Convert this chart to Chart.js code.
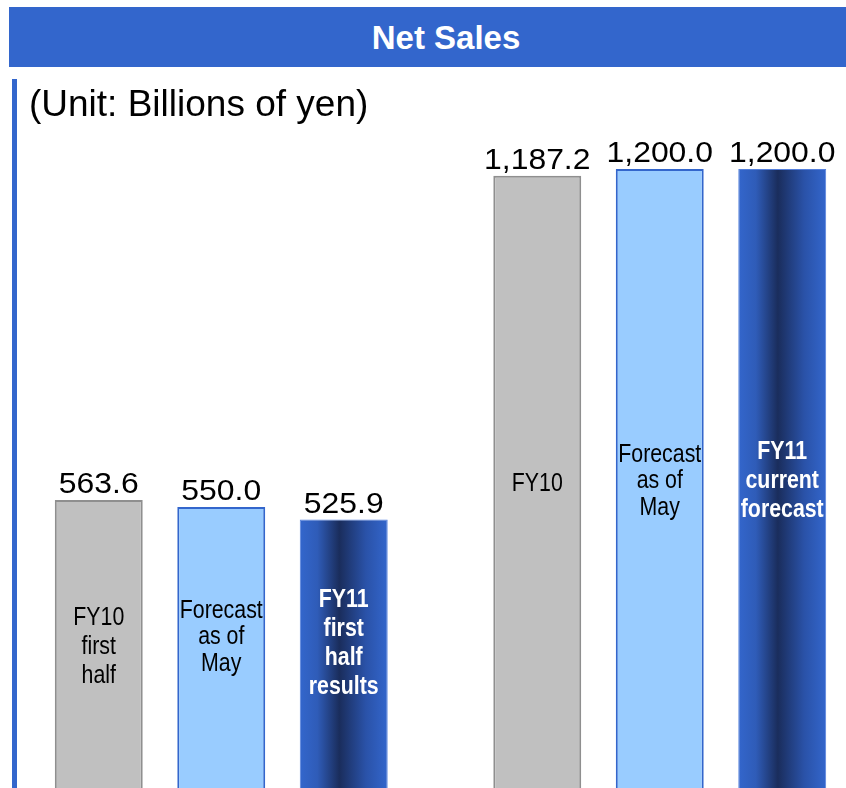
<!DOCTYPE html>
<html>
<head>
<meta charset="utf-8">
<script src="https://cdn.jsdelivr.net/npm/chart.js@4/dist/chart.umd.min.js"></script>
<style>
    body { margin: 0; width: 846px; height: 788px; overflow: hidden; background: #ffffff; position: relative; }
    #titre {
        position: absolute; left: 9px; top: 7px; width: 874px; height: 60px;
        background: #3366cc; color: #ffffff;
        font: bold 33px "Liberation Sans", Arial, sans-serif;
        line-height: 61px; text-align: center;
    }
    #barre { position: absolute; left: 12px; top: 79px; width: 5px; height: 720px; background: #3366cc; }
    #unite {
        position: absolute; left: 29px; top: 83px;
        font: 37px "Liberation Sans", Arial, sans-serif; color: #000000;
    }
    #zone { position: absolute; left: 0; top: 0; width: 846px; height: 788px; overflow: hidden; }
    #zone canvas { position: absolute; left: 0; top: 0; }
</style>
</head>
<body>
<div id="zone"><canvas id="ventes-chart" width="890" height="800"></canvas></div>
<div id="titre">Net Sales</div>
<div id="barre"></div>
<div id="unite">(Unit: Billions of yen)</div>

<script>
// Données (milliards de yens)
const periodes = ["First half", "Full year"];
const resultatsFY10 = [563.6, 1187.2];
const previsionMai = [550.0, 1200.0];
const valeursFY11 = [525.9, 1200.0];

// Texte écrit dans chaque barre
const textesFY10 = [["FY10", "first", "half"], ["FY10"]];
const textesMai = [["Forecast", "as of", "May"], ["Forecast", "as of", "May"]];
const textesFY11 = [["FY11", "first", "half", "results"], ["FY11", "current", "forecast"]];

const textesBarres = [textesFY10, textesMai, textesFY11];

// Dégradé horizontal pour les barres FY11
const degradePlugin = {
    id: "degrade",
    beforeDatasetsDraw(chart) {
        const ctx = chart.ctx;
        const meta = chart.getDatasetMeta(2);
        meta.data.forEach((bar) => {
            const g = ctx.createLinearGradient(bar.x - bar.width / 2, 0, bar.x + bar.width / 2, 0);
            g.addColorStop(0, "#3366cc");
            g.addColorStop(0.2, "#2f5cb8");
            g.addColorStop(0.45, "#1a2d5c");
            g.addColorStop(0.75, "#2a52a8");
            g.addColorStop(1, "#3366cc");
            bar.options.backgroundColor = g;
        });
    },
};

// Valeurs au-dessus des barres et texte à l'intérieur
const etiquettesPlugin = {
    id: "etiquettes",
    afterDatasetsDraw(chart) {
        const ctx = chart.ctx;
        // petit décalage vertical du texte dans certaines barres
        const decalages = [[0, 0], [-13, 0], [-13, 0]];
        chart.data.datasets.forEach((dataset, i) => {
            const meta = chart.getDatasetMeta(i);
            meta.data.forEach((bar, j) => {
                const valeur = dataset.data[j].toLocaleString("en-US", { minimumFractionDigits: 1, maximumFractionDigits: 1 });

                ctx.save();
                ctx.fillStyle = "#000000";
                ctx.font = '29px "Liberation Sans", Arial, sans-serif';
                ctx.textAlign = "center";
                ctx.textBaseline = "alphabetic";
                ctx.translate(bar.x, bar.y - 7);
                ctx.scale(1.1, 1);
                ctx.fillText(valeur, 0, 0);
                ctx.restore();

                const lignes = textesBarres[i][j];
                const hauteurLigne = i === 1 ? 26.5 : 29;
                const milieu = (bar.y + bar.base) / 2 + decalages[i][j];
                const debut = milieu - (lignes.length - 1) * hauteurLigne / 2;

                ctx.save();
                ctx.fillStyle = i === 2 ? "#ffffff" : "#000000";
                ctx.font = (i === 2 ? "bold " : "") + '26px "Liberation Sans", Arial, sans-serif';
                ctx.textAlign = "center";
                ctx.textBaseline = "middle";
                lignes.forEach((ligne, k) => {
                    ctx.save();
                    ctx.translate(bar.x, debut + k * hauteurLigne);
                    ctx.scale(0.82, 1);
                    ctx.fillText(ligne, 0, 0);
                    ctx.restore();
                });
                ctx.restore();
            });
        });
    },
};

const ctx = document.getElementById("ventes-chart").getContext("2d");

new Chart(ctx, {
    type: "bar",
    data: {
        labels: periodes,
        datasets: [
            {
                label: "FY10 results",
                data: resultatsFY10,
                backgroundColor: "#c0c0c0",
                borderColor: "#8f8f8f",
                borderWidth: 2,
            },
            {
                label: "Forecast as of May",
                data: previsionMai,
                backgroundColor: "#99ccff",
                borderColor: "#3366cc",
                borderWidth: 2,
            },
            {
                label: "FY11",
                data: valeursFY11,
                // fonction => options propres à chaque barre (pour le dégradé)
                backgroundColor: () => "#3366cc",
                borderColor: "#5580dd",
                borderWidth: 1,
            },
        ],
    },
    options: {
        responsive: false,
        animation: false,
        categoryPercentage: 0.838,
        barPercentage: 0.718,
        layout: { padding: { left: 2, right: 11, top: 13, bottom: 7 } },
        plugins: {
            legend: { display: false },
            tooltip: { enabled: false },
        },
        scales: {
            x: { display: false },
            y: { display: false, min: 0, max: 1500 },
        },
    },
    plugins: [degradePlugin, etiquettesPlugin],
});
</script>
</body>
</html>
